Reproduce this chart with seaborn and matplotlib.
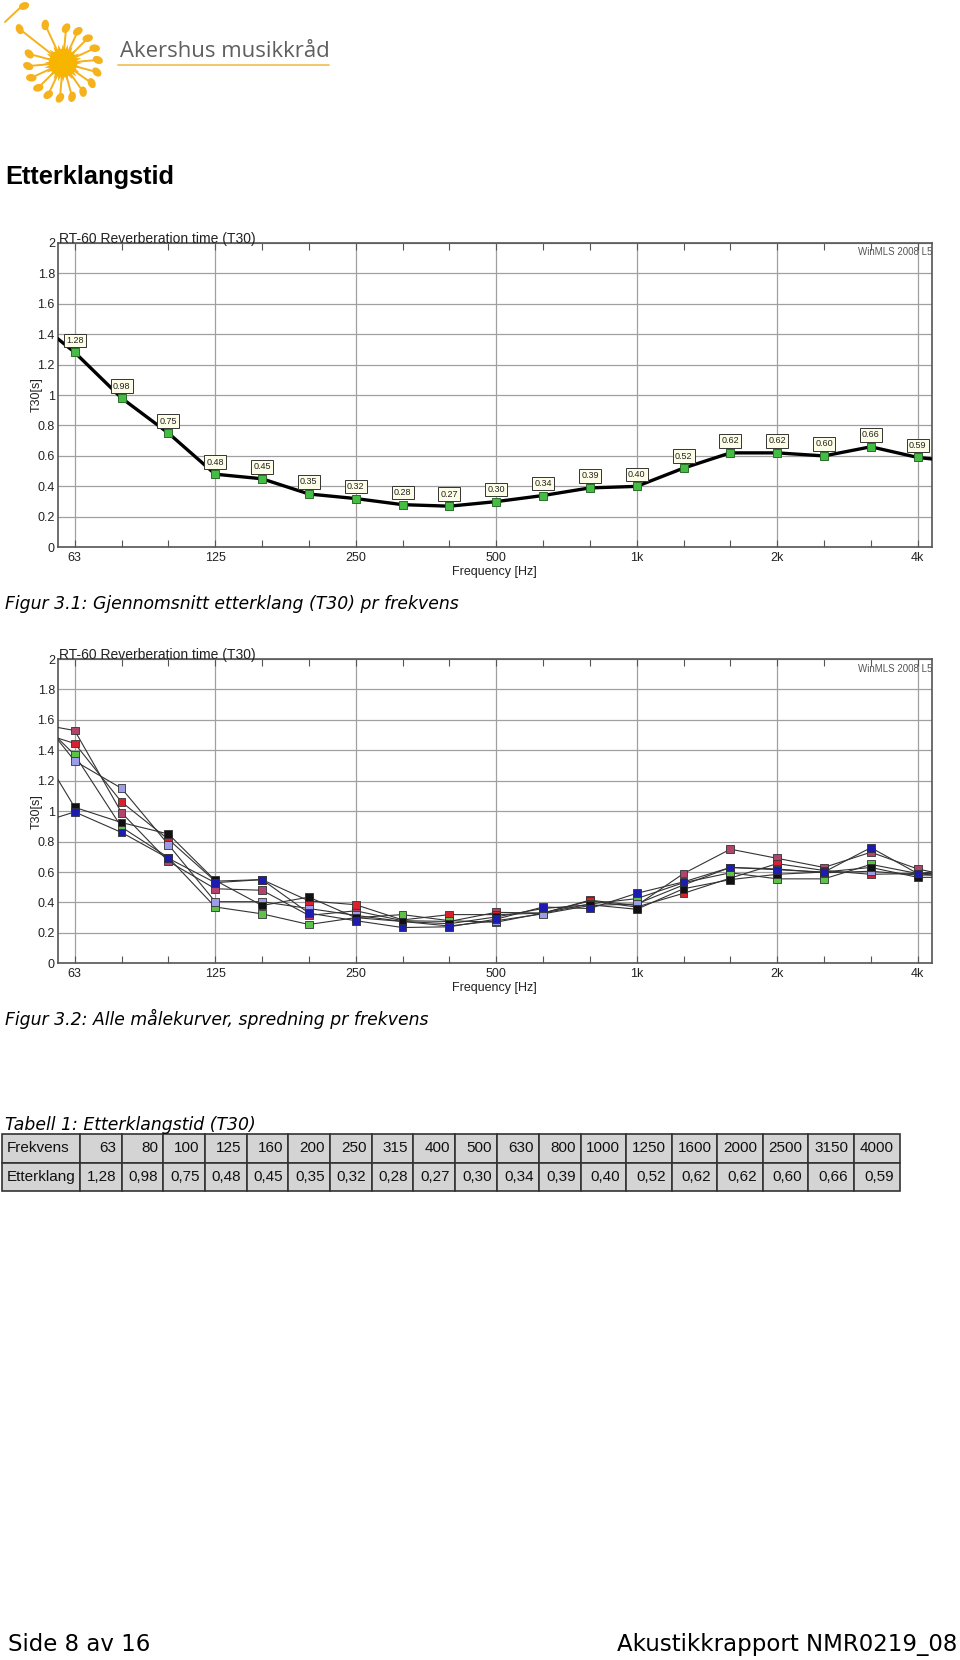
import numpy as np
import pandas as pd
import matplotlib
matplotlib.use("Agg")
import matplotlib.pyplot as plt
from matplotlib import patches, font_manager
import seaborn as sns

# --- data -------------------------------------------------------------
bands = ["63", "80", "100", "125", "160", "200", "250", "315", "400", "500",
         "630", "800", "1000", "1250", "1600", "2000", "2500", "3150", "4000"]
octave_labels = ["63", "125", "250", "500", "1k", "2k", "4k"]

t30_mean = [1.28, 0.98, 0.75, 0.48, 0.45, 0.35, 0.32, 0.28, 0.27, 0.30,
            0.34, 0.39, 0.40, 0.52, 0.62, 0.62, 0.60, 0.66, 0.59]
t30_mean_edges = [1.37, 0.58]  # curve runs on to the plot edges

# figur 3.2: alle målekurver
t30_maroon = [1.53, 0.99, 0.67, 0.49, 0.48, 0.315, 0.345, 0.28, 0.275, 0.335,
              0.33, 0.415, 0.38, 0.59, 0.75, 0.69, 0.63, 0.73, 0.62]
t30_red = [1.445, 1.06, 0.815, 0.54, 0.55, 0.41, 0.385, 0.285, 0.32, 0.32,
           0.33, 0.41, 0.37, 0.46, 0.56, 0.655, 0.61, 0.585, 0.59]
t30_green = [1.37, 0.895, 0.695, 0.37, 0.325, 0.255, 0.30, 0.32, 0.28, 0.27,
             0.33, 0.39, 0.425, 0.53, 0.595, 0.555, 0.555, 0.65, 0.59]
t30_lavender = [1.33, 1.15, 0.78, 0.405, 0.405, 0.36, 0.315, 0.275, 0.245, 0.28,
                0.325, 0.38, 0.39, 0.515, 0.63, 0.62, 0.595, 0.605, 0.58]
t30_black = [1.025, 0.925, 0.85, 0.545, 0.38, 0.435, 0.30, 0.275, 0.26, 0.305,
             0.36, 0.385, 0.355, 0.49, 0.55, 0.585, 0.60, 0.63, 0.565]
t30_blue = [0.995, 0.86, 0.69, 0.53, 0.55, 0.33, 0.28, 0.235, 0.24, 0.29,
            0.37, 0.36, 0.46, 0.535, 0.63, 0.615, 0.60, 0.76, 0.59]

curves = {"maroon": t30_maroon, "red": t30_red, "green": t30_green,
          "lavender": t30_lavender, "black": t30_black, "blue": t30_blue}
curve_edges = {"maroon": [1.55, 0.60], "red": [1.48, 0.60], "green": [1.48, 0.59],
               "lavender": [1.47, 0.58], "black": [1.21, 0.565], "blue": [0.96, 0.58]}
curve_colors = {"maroon": "#b0446a", "red": "#d9202e", "green": "#5cc24a",
                "lavender": "#9c9ce8", "black": "#111111", "blue": "#1c1cb0"}

# --- style ------------------------------------------------------------
sns.set_style("white")
plt.rcParams["font.family"] = ["Liberation Sans", "DejaVu Sans"]
plt.rcParams["text.color"] = "black"

W, H = 960, 1660
X_LEFT, X_RIGHT = -0.363, 18.305
band_pos = np.arange(len(bands))
gold = "#f5b21c"

fig = plt.figure(figsize=(W / 100, H / 100), dpi=100)
page = fig.add_axes([0, 0, 1, 1], zorder=-1)
page.set_xlim(0, W)
page.set_ylim(H, 0)
page.axis("off")


def px_axes(left, top, right, bottom):
    return fig.add_axes([left / W, 1 - bottom / H, (right - left) / W, (bottom - top) / H])


def setup_rt60(ax):
    ax.set_xlim(X_LEFT, X_RIGHT)
    ax.set_ylim(0, 2)
    ax.set_xticks(band_pos[::3])
    ax.set_xticklabels(octave_labels)
    ax.set_xticks(band_pos, minor=True)
    yt = np.round(np.arange(0, 2.01, 0.2), 1)
    ax.set_yticks(yt)
    ax.set_yticklabels([f"{v:g}" for v in yt])
    ax.grid(True, which="major", color="#a0a0a0", lw=0.9)
    ax.tick_params(axis="x", which="both", direction="in", top=True, bottom=True,
                   length=5, width=0.8, color="#555", labelsize=9, pad=3.5, labelcolor="#222")
    ax.tick_params(axis="y", length=0, labelsize=9, pad=2, labelcolor="#222")
    for s in ax.spines.values():
        s.set_color("#555")
        s.set_linewidth(1.2)
    ax.set_xlabel("Frequency [Hz]", fontsize=9, labelpad=1.5, color="#222")
    ax.set_ylabel("T30[s]", fontsize=9, color="#222")
    ax.yaxis.set_label_coords(-0.017, 0.5)
    ax.text(0.002, 1.0, "RT-60 Reverberation time (T30)", transform=ax.transAxes,
            fontsize=10, va="baseline", ha="left", color="#222")
    ax.text(1.0, 0.985, "WinMLS 2008 L5", transform=ax.transAxes, fontsize=7,
            va="top", ha="right", color="#555")


# --- logo -------------------------------------------------------------
cx, cy = 63, 63
ang = np.deg2rad(np.linspace(0, 360, 49)[:-1])
rad = np.where(np.arange(48) % 2 == 0, 19, 13)
page.add_patch(patches.Polygon(np.c_[cx + rad * np.cos(ang), cy + rad * np.sin(ang)],
                               closed=True, color=gold, lw=0))
page.add_patch(patches.Circle((cx, cy), 14, color="#f7b500", lw=0))
for a_deg, r in list(zip(np.arange(-85, 200, 20), [35] * 15)) + [(-115, 42), (-142, 55)]:
    a = np.deg2rad(a_deg)
    hx, hy = cx + r * np.cos(a), cy + r * np.sin(a)
    page.plot([cx + 14 * np.cos(a), hx], [cy + 14 * np.sin(a), hy], color=gold, lw=1.4)
    page.add_patch(patches.Ellipse((hx, hy), 10.5, 7.5, angle=a_deg + 30, color=gold, lw=0))
page.plot([5, 22], [22, 6], color=gold, lw=1.4)
page.add_patch(patches.Ellipse((24, 6), 10.5, 7.5, angle=-20, color=gold, lw=0))
page.text(120, 57, "Akershus musikkråd", fontsize=15.9, family=["Open Sans", "DejaVu Sans"],
          color="#5f5f5f", va="baseline", ha="left")
page.plot([118, 329], [65.5, 65.5], color="#f2c25c", lw=1.3)

page.text(5, 184, "Etterklangstid", fontsize=18.3, fontweight="bold", va="baseline", ha="left")

# --- figur 3.1 ----------------------------------------------------------
ax1 = px_axes(57.7, 242.7, 932, 547.3)
setup_rt60(ax1)
mean_x = np.r_[X_LEFT, band_pos, X_RIGHT]
mean_y = np.r_[t30_mean_edges[0], t30_mean, t30_mean_edges[1]]
sns.lineplot(x=mean_x, y=mean_y, ax=ax1, color="black", lw=2.4, zorder=3)
sns.scatterplot(x=band_pos, y=t30_mean, ax=ax1, marker="s", s=28, color="#45bd45",
                edgecolor="#2a6e2a", linewidth=0.7, zorder=4, clip_on=False)
for x, v in zip(band_pos, t30_mean):
    ax1.annotate(f"{v:.2f}", (x, v), xytext=(0, 12), textcoords="offset pixels",
                 ha="center", va="center", fontsize=6.5, color="#222", zorder=5,
                 bbox=dict(boxstyle="square,pad=0.25", fc="#fdfde8", ec="#333", lw=0.7))
ax1.set_xlabel("Frequency [Hz]", fontsize=9, labelpad=1.5, color="#222")
ax1.set_ylabel("T30[s]", fontsize=9, color="#222")
page.text(5, 609, "Figur 3.1: Gjennomsnitt etterklang (T30) pr frekvens", fontsize=12.4,
          style="italic", family="DejaVu Sans", va="baseline", ha="left")

# --- figur 3.2 ----------------------------------------------------------
ax2 = px_axes(57.7, 659, 932, 963.3)
setup_rt60(ax2)
line_rows, point_rows = [], []
for name, vals in curves.items():
    ed = curve_edges[name]
    for x, v in zip(np.r_[X_LEFT, band_pos, X_RIGHT], np.r_[ed[0], vals, ed[1]]):
        line_rows.append((name, x, v))
    for x, v in zip(band_pos, vals):
        point_rows.append((name, x, v))
lines_df = pd.DataFrame(line_rows, columns=["maling", "pos", "t30"])
points_df = pd.DataFrame(point_rows, columns=["maling", "pos", "t30"])
sns.lineplot(data=lines_df, x="pos", y="t30", units="maling", estimator=None,
             ax=ax2, color="#333", lw=0.8, zorder=3)
sns.scatterplot(data=points_df, x="pos", y="t30", hue="maling", palette=curve_colors,
                marker="s", s=32, edgecolor="#333", linewidth=0.6, legend=False,
                ax=ax2, zorder=4)
ax2.set_xlabel("Frequency [Hz]", fontsize=9, labelpad=1.5, color="#222")
ax2.set_ylabel("T30[s]", fontsize=9, color="#222")
page.text(5, 1025, "Figur 3.2: Alle målekurver, spredning pr frekvens", fontsize=12.4,
          style="italic", family="DejaVu Sans", va="baseline", ha="left")

# --- tabell 1 -----------------------------------------------------------
page.text(5, 1130, "Tabell 1: Etterklangstid (T30)", fontsize=12.4, style="italic",
          family="DejaVu Sans", va="baseline", ha="left")
col_px = [78] + [41.7] * 9 + [42.3, 41.7, 42, 44.7, 46, 45.6, 45.4, 45.6, 45.7, 46]
cell_text = [["Frekvens"] + bands,
             ["Etterklang"] + [f"{v:.2f}".replace(".", ",") for v in t30_mean]]
names = {f.name for f in font_manager.fontManager.ttflist}
narrow = "Liberation Sans Narrow" in names
tab_font = "Liberation Sans Narrow" if narrow else "Liberation Sans"
tab = page.table(cellText=cell_text, colWidths=[c / sum(col_px) for c in col_px],
                 cellLoc="right", bbox=[2 / W, 1 - 1190.7 / H, 898 / W, 56.4 / H])
tab.auto_set_font_size(False)
for (r, c), cell in tab.get_celld().items():
    cell.set_facecolor("#d4d4d4")
    cell.set_edgecolor("#333")
    cell.set_linewidth(1.2)
    cell.PAD = 0.06 if c == 0 else 0.13
    txt = cell.get_text()
    txt.set_fontfamily(tab_font)
    txt.set_fontsize(12.5 if narrow else 11)
    txt.set_color("#111")
    if c == 0:
        cell._loc = "left"
        txt.set_horizontalalignment("left")

# --- footer -------------------------------------------------------------
page.text(8, 1651, "Side 8 av 16", fontsize=16.5, family="DejaVu Sans", va="baseline", ha="left")
page.text(957, 1651, "Akustikkrapport NMR0219_08", fontsize=16.5, family="DejaVu Sans",
          va="baseline", ha="right")

fig.savefig("out.png", dpi=100, facecolor="white")
